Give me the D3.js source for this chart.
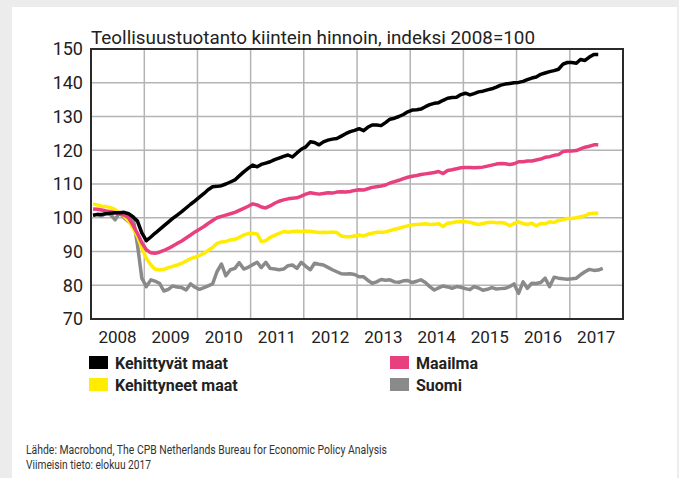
<!DOCTYPE html>
<html>
<head>
<meta charset="utf-8">
<script src="https://cdnjs.cloudflare.com/ajax/libs/d3/7.8.5/d3.min.js"></script>
<style>
  html, body { margin: 0; padding: 0; background: #ececec; }
  svg { display: block; font-family: Roboto, "Noto Sans", sans-serif; }
</style>
</head>
<body>
<svg class="chart"></svg>
<script>
/*Monthly index values, 2008=100, first value is January 2008*/
const kehittyvat = [
  100.7, 101.0, 101.0, 101.2, 101.3, 101.5, 101.5, 101.6, 101.2, 100.3, 99.0, 95.5,
  93.2, 94.3, 95.4, 96.5, 97.6, 98.7, 99.8, 100.8, 101.8, 102.9, 104.0, 105.0,
  106.1, 107.2, 108.3, 109.2, 109.3, 109.5, 110.0, 110.6, 111.2, 112.4, 113.6, 114.6,
  115.6, 115.1, 115.8, 116.2, 116.6, 117.2, 117.7, 118.2, 118.6, 118.0, 119.2, 120.3,
  121.0, 122.5, 122.3, 121.6, 122.5, 123.0, 123.3, 123.5, 124.2, 124.9, 125.5, 125.9,
  126.4, 125.8, 126.8, 127.5, 127.5, 127.3, 128.2, 129.2, 129.5, 130.0, 130.6, 131.4,
  131.9, 132.0, 132.2, 132.9, 133.5, 133.9, 134.1, 134.8, 135.4, 135.6, 135.7, 136.5,
  136.9, 136.4, 136.8, 137.3, 137.5, 137.9, 138.2, 138.7, 139.3, 139.6, 139.8, 140.0,
  140.1, 140.4, 140.9, 141.4, 141.7, 142.5, 142.9, 143.3, 143.6, 144.0, 145.5, 146.0,
  146.0, 145.8, 146.9, 146.6, 147.6, 148.4, 148.4
]
const maailma = [
  102.6, 102.5, 102.3, 102.0, 101.8, 101.5, 101.2, 100.8, 100.0, 97.8, 95.4, 92.6,
  90.5, 89.6, 89.5, 89.8, 90.3, 90.9, 91.6, 92.4, 93.1, 94.0, 94.9, 95.8,
  96.6, 97.4, 98.3, 99.2, 100.0, 100.4, 100.8, 101.2, 101.6, 102.2, 102.8, 103.4,
  104.1, 103.8, 103.2, 102.9, 103.5, 104.3, 104.9, 105.3, 105.6, 105.8, 105.9, 106.4,
  107.0, 107.4, 107.2, 107.0, 107.2, 107.4, 107.3, 107.6, 107.7, 107.6, 107.8, 108.1,
  108.3, 108.2, 108.6, 109.0, 109.2, 109.4, 109.7, 110.3, 110.7, 111.1, 111.6, 112.0,
  112.3, 112.5, 112.8, 113.0, 113.2, 113.4, 113.7, 113.1, 114.0, 114.2, 114.5, 114.8,
  114.9, 114.9, 114.8, 114.9, 115.0, 115.3, 115.6, 115.9, 116.1, 116.0, 115.8, 116.0,
  116.6, 116.6, 116.8, 116.8, 117.1, 117.4, 117.9, 118.1, 118.5, 118.7, 119.6, 119.8,
  119.8, 119.9, 120.4, 120.9, 121.2, 121.6, 121.6
]
const kehittyneet = [
  104.1, 103.8, 103.4, 103.3, 103.0, 102.4, 101.5, 100.5, 99.0, 97.0, 94.5, 91.0,
  88.0, 86.0, 84.8, 84.5, 84.7, 85.2, 85.6, 86.0, 86.5, 87.2, 87.9, 88.3,
  88.8, 89.5, 90.3, 91.2, 92.4, 92.8, 93.0, 93.4, 93.6, 94.2, 94.9, 95.3,
  95.4, 95.2, 93.0, 93.2, 94.2, 94.8, 95.4, 95.9, 95.7, 95.9, 96.0, 95.9,
  96.1, 96.0, 95.8, 95.6, 95.7, 95.6, 95.8, 95.6, 94.6, 94.4, 94.4, 94.6,
  94.9, 94.6, 95.1, 95.4, 95.7, 95.7, 95.8, 96.2, 96.6, 96.9, 97.3, 97.6,
  97.9, 98.0, 98.1, 98.2, 98.0, 98.1, 98.2, 97.4, 98.4, 98.5, 98.8, 98.9,
  98.8, 98.7, 98.3, 98.0, 98.3, 98.6, 98.7, 98.5, 98.6, 98.4, 97.6, 98.3,
  98.8, 98.3, 98.0, 98.4, 97.6, 98.3, 98.2, 98.8, 98.6, 99.2, 99.4, 99.8,
  99.8, 100.0, 100.3, 100.6, 101.2, 101.3, 101.3
]
const suomi = [
  100.8, 101.0, 100.5, 101.5, 100.9, 99.4, 101.5, 100.0, 98.8, 100.3, 92.0, 82.1,
  79.6, 81.6, 81.2, 80.6, 78.3, 78.8, 79.8, 79.5, 79.3, 78.6, 80.4, 79.4,
  78.8, 79.3, 79.8, 80.4, 84.0, 86.3, 82.8, 84.6, 85.0, 86.7, 84.8, 85.3,
  86.1, 86.8, 85.2, 86.8, 85.0, 84.8, 84.6, 84.8, 85.8, 86.0, 85.0, 86.8,
  85.6, 84.6, 86.5, 86.2, 86.0, 85.3, 84.6, 84.0, 83.4, 83.3, 83.4, 83.2,
  82.5, 82.5, 81.5, 80.6, 81.0, 81.7, 81.5, 81.6, 81.0, 80.9, 81.3, 81.4,
  80.8, 81.2, 81.6, 80.8, 79.6, 78.6, 79.2, 79.8, 79.5, 79.1, 79.6, 79.4,
  79.0, 78.7, 79.6, 79.2, 78.5, 78.8, 79.3, 78.9, 79.0, 79.1, 79.6, 80.4,
  77.6, 81.0, 79.1, 80.6, 80.5, 80.8, 82.1, 79.6, 82.4, 82.1, 81.9, 81.8,
  81.9, 82.1, 83.1, 84.0, 84.7, 84.4, 84.5, 85.0
]

const years = [2008, 2009, 2010, 2011, 2012, 2013, 2014, 2015, 2016, 2017]
const yTicks = [70, 80, 90, 100, 110, 120, 130, 140, 150]

const seriesNames = ["Kehittyvät maat", "Kehittyneet maat", "Maailma", "Suomi"]
const seriesColors = ["#000000", "#ffec00", "#e8407f", "#8a8a8a"]

const W = 679, H = 478
const margin = { top: 49, left: 91, right: 56, bottom: 159 }
const width = W - margin.left - margin.right,
      height = H - margin.top - margin.bottom

const svg = d3.select(".chart")
    .attr("width", W)
    .attr("height", H)

/*White card on the grey page*/
svg.append("rect")
    .attr("x", 12).attr("y", 7)
    .attr("width", 665).attr("height", H - 7)
    .attr("fill", "#fff")

const x = d3.scaleTime()
    .domain([new Date(2008, 0, 1), new Date(2018, 0, 1)])
    .range([0, width])

const y = d3.scaleLinear()
    .domain([70, 150])
    .range([height, 0])

const g = svg.append("g")
    .attr("transform", "translate(" + margin.left + "," + margin.top + ")")

/*Grid lines*/
g.append("g")
    .selectAll("line")
    .data(yTicks)
    .enter()
    .append("line")
      .attr("x1", 0).attr("x2", width)
      .attr("y1", d => y(d)).attr("y2", d => y(d))
      .attr("stroke", "#b4b4b4")
      .attr("stroke-width", 1.5)

g.append("g")
    .selectAll("line")
    .data(years.slice(1))
    .enter()
    .append("line")
      .attr("x1", d => x(new Date(d, 0, 1))).attr("x2", d => x(new Date(d, 0, 1)))
      .attr("y1", 0).attr("y2", height)
      .attr("stroke", "#b4b4b4")
      .attr("stroke-width", 1.5)

/*Y axis labels*/
g.append("g")
    .selectAll("text")
    .data(yTicks)
    .enter()
    .append("text")
      .attr("x", -8)
      .attr("y", d => y(d))
      .attr("dy", "0.36em")
      .attr("text-anchor", "end")
      .attr("fill", "#222")
      .style("font-size", "18px")
      .text(d => d)

/*Year labels centred in each year*/
g.append("g")
    .selectAll("text")
    .data(years)
    .enter()
    .append("text")
      .attr("x", d => x(new Date(d, 6, 1)))
      .attr("y", height + 24)
      .attr("text-anchor", "middle")
      .attr("fill", "#222")
      .style("font-size", "17px")
      .text(d => d)

/*Lines*/
const line = d3.line()
    .x((d, i) => x(new Date(2008, i, 15)))
    .y(d => y(d))

const drawOrder = [suomi, kehittyneet, maailma, kehittyvat]
const drawColors = [seriesColors[3], seriesColors[1], seriesColors[2], seriesColors[0]]

g.append("g")
    .selectAll("path")
    .data(drawOrder)
    .enter()
    .append("path")
      .attr("d", line)
      .attr("fill", "none")
      .attr("stroke", (d, i) => drawColors[i])
      .attr("stroke-width", 3.5)
      .attr("stroke-linejoin", "round")

/*Frame*/
g.append("rect")
    .attr("width", width).attr("height", height)
    .attr("fill", "none")
    .attr("stroke", "#2a2a2a")
    .attr("stroke-width", 2)

/*Title*/
svg.append("text")
    .attr("x", 91).attr("y", 44)
    .attr("fill", "#222")
    .style("font-size", "18px")
    .attr("textLength", 444)
    .attr("lengthAdjust", "spacingAndGlyphs")
    .text("Teollisuustuotanto kiintein hinnoin, indeksi 2008=100")

/*Legend*/
const legendPos = [[89, 356], [89, 378], [390, 356], [390, 378]]
const legend = svg.append("g")
    .selectAll("g")
    .data(seriesNames)
    .enter()
    .append("g")
      .attr("transform", (d, i) => "translate(" + legendPos[i][0] + "," + legendPos[i][1] + ")")

legend.append("rect")
    .attr("width", 19).attr("height", 13)
    .attr("fill", (d, i) => seriesColors[i])

legend.append("text")
    .attr("x", 26).attr("y", 13)
    .attr("fill", "#222")
    .style("font-size", "16px")
    .style("font-weight", "bold")
    .text(d => d)

/*Source*/
const source = ["Lähde: Macrobond, The CPB Netherlands Bureau for Economic Policy Analysis",
                "Viimeisin tieto: elokuu 2017"]
svg.append("g")
    .selectAll("text")
    .data(source)
    .enter()
    .append("text")
      .attr("x", 26)
      .attr("y", (d, i) => 454 + i * 15)
      .attr("fill", "#333")
      .style("font-size", "13px")
      .attr("textLength", (d, i) => i === 0 ? 361 : 125)
      .attr("lengthAdjust", "spacingAndGlyphs")
      .text(d => d)
</script>
</body>
</html>
